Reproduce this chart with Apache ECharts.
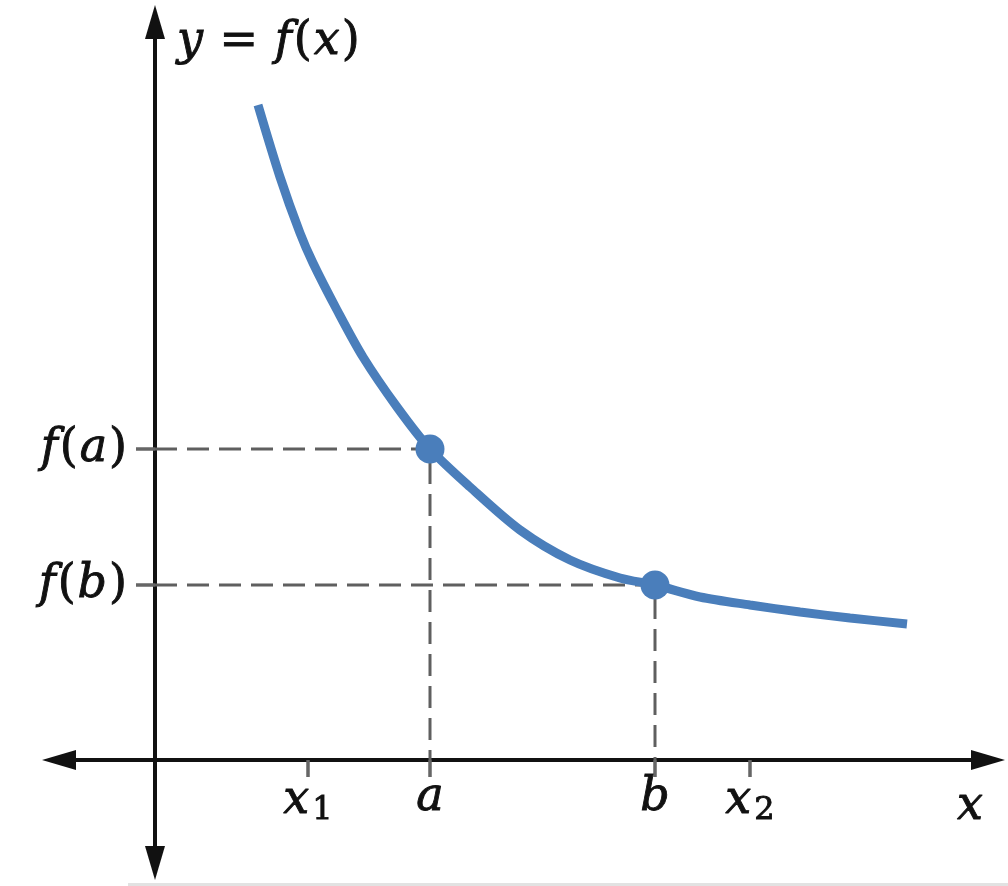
<!DOCTYPE html>
<html><head><meta charset="utf-8">
<script src="https://cdn.jsdelivr.net/npm/echarts@6/dist/echarts.min.js"></script>
<style>html,body{margin:0;padding:0;background:#fff}#c{width:1008px;height:886px}</style>
</head><body><div id="c"></div>
<script>
// Curve (x, y in chart units)
const curveX = [1.03, 1.25, 1.45, 1.58, 1.82, 2.08, 2.42, 2.75, 3.15, 3.65, 4.15, 4.65, 5.00, 5.45, 5.95, 6.45, 6.95, 7.52];
const curveY = [6.55, 5.83, 5.27, 4.97, 4.50, 4.03, 3.53, 3.11, 2.73, 2.30, 2.00, 1.82, 1.75, 1.63, 1.55, 1.48, 1.42, 1.36];
// Marked values
const a = 2.75, b = 5.00, fa = 3.11, fb = 1.75, x1 = 1.53, x2 = 5.95;
const xTickValues = [x1, a, b, x2];
const xTickLabels = ['{i|x}{s|1}', '{i|a}', '{i|b}', '{i|x}{s|2}'];
const yTickValues = [fb, fa];
const yTickLabels = ['{i|f}{p|(}{i|b}{p|)}', '{i|f}{p|(}{i|a}{p|)}'];
const xRange = [-0.96, 8.33];
const yRange = [-1.03, 7.38];

const GRID = { left: 59, right: 20, top: 22, bottom: 23 };
const W = 1008, H = 886;
const plotW = W - GRID.left - GRID.right, plotH = H - GRID.top - GRID.bottom;
// move each axis onto the other axis's zero
const xAxisOffset = -((0 - yRange[0]) / (yRange[1] - yRange[0])) * plotH;
const yAxisOffset = -((0 - xRange[0]) / (xRange[1] - xRange[0])) * plotW;

const FONT = "'DejaVu Serif', 'Liberation Serif', serif";
const INK = '#111';
const heavy = { textBorderColor: INK, textBorderWidth: 0.9 };
const richStyles = {
  i: Object.assign({ fontFamily: FONT, fontStyle: 'italic', fontSize: 46, color: INK }, heavy),
  p: Object.assign({ fontFamily: FONT, fontSize: 46, color: INK, padding: [0, 2, 0, 2] }, heavy),
  s: Object.assign({ fontFamily: FONT, fontSize: 32, color: INK, padding: [20, 0, 0, 3] }, heavy)
};
function pick(vals, labels, v) {
  for (let k = 0; k < vals.length; k++) if (Math.abs(vals[k] - v) < 1e-6) return labels[k];
  return '';
}
const curve = curveX.map((x, k) => [x, curveY[k]]);
const guideA = [[0, fa], [a, fa], [a, 0]];
const guideB = [[0, fb], [b, fb], [b, 0]];
const pts = [[a, fa], [b, fb]];

const axisLineStyle = { color: INK, width: 4 };
const chart = echarts.init(document.getElementById('c'), null, { renderer: 'canvas' });
chart.setOption({
  animation: false,
  backgroundColor: '#fff',
  grid: Object.assign({ containLabel: false, outerBoundsMode: 'none' }, GRID),
  xAxis: {
    type: 'value', min: xRange[0], max: xRange[1], position: 'bottom', offset: xAxisOffset,
    splitLine: { show: false },
    axisLine: { onZero: false, lineStyle: axisLineStyle, symbol: ['triangle', 'triangle'], symbolSize: [20, 34] },
    axisTick: { show: true, customValues: xTickValues, length: 17, lineStyle: { color: '#666', width: 3.5 } },
    axisLabel: { show: true, customValues: xTickValues, margin: 15, formatter: v => pick(xTickValues, xTickLabels, v), rich: richStyles },
    name: '{i|x}', nameLocation: 'end', nameGap: -18,
    nameTextStyle: { align: 'center', verticalAlign: 'top', padding: [24, 0, 0, 0], rich: { i: richStyles.i } }
  },
  yAxis: {
    type: 'value', min: yRange[0], max: yRange[1], position: 'left', offset: yAxisOffset,
    splitLine: { show: false },
    axisLine: { onZero: false, lineStyle: axisLineStyle, symbol: ['triangle', 'triangle'], symbolSize: [20, 34] },
    axisTick: { show: true, customValues: yTickValues, length: 19, lineStyle: { color: '#666', width: 3.5 } },
    axisLabel: { show: true, customValues: yTickValues, margin: 26, formatter: v => pick(yTickValues, yTickLabels, v), rich: richStyles },
    name: '{i|y}{p| = }{i|f}{p|(}{i|x}{p|)}', nameLocation: 'end', nameGap: -20,
    nameTextStyle: { align: 'left', verticalAlign: 'middle', padding: [0, 0, 0, 22], rich: { i: richStyles.i, p: richStyles.p } }
  },
  series: [
    { type: 'line', data: guideA, symbol: 'none', silent: true, z: 1,
      lineStyle: { color: '#5f5f5f', width: 3, type: [22, 10] } },
    { type: 'line', data: guideB, symbol: 'none', silent: true, z: 1,
      lineStyle: { color: '#5f5f5f', width: 3, type: [22, 10] } },
    { type: 'line', data: curve, symbol: 'none', smooth: 0.3, z: 3,
      lineStyle: { color: '#4a7ebb', width: 9, cap: 'butt' } },
    { type: 'scatter', data: pts, symbolSize: 29, z: 4, itemStyle: { color: '#4a7ebb', opacity: 1 } }
  ],
  graphic: [
    { type: 'rect', left: 128, top: 883, shape: { width: 880, height: 3 }, style: { fill: '#e2e2e2' }, silent: true }
  ]
});
</script></body></html>
